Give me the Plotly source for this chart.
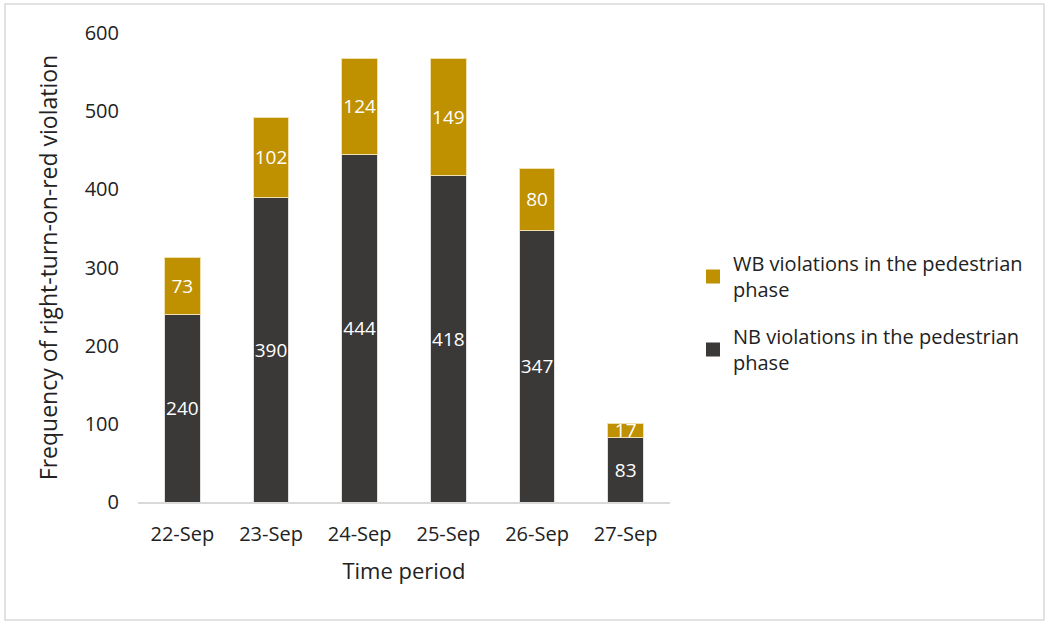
import plotly.graph_objects as go

dates = ["22-Sep", "23-Sep", "24-Sep", "25-Sep", "26-Sep", "27-Sep"]
nb_values = [240, 390, 444, 418, 347, 83]
wb_values = [73, 102, 124, 149, 80, 17]
y_ticks = [0, 100, 200, 300, 400, 500, 600]

NB_NAME = "NB violations in the pedestrian<br>phase"
WB_NAME = "WB violations in the pedestrian<br>phase"
NB_COLOR = "#3B3838"
WB_COLOR = "#BF9000"

FONT = "Open Sans, Noto Sans, sans-serif"
fig = go.Figure()
fig.add_trace(go.Bar(
    x=dates, y=nb_values, name=NB_NAME, showlegend=False,
    marker=dict(color=NB_COLOR, line=dict(color="#E0E0E0", width=1)),
    text=nb_values, textposition="inside", insidetextanchor="middle", textangle=0,
    textfont=dict(color="white", size=19, family=FONT),
))
fig.add_trace(go.Bar(
    x=dates, y=wb_values, name=WB_NAME, showlegend=False,
    marker=dict(color=WB_COLOR, line=dict(color="#F0E0B0", width=1)),
    text=wb_values, textposition="inside", insidetextanchor="middle", textangle=0,
    textfont=dict(color="white", size=19, family=FONT),
))
# legend entries with larger square swatches
for name, color, grp, rank in [(WB_NAME, WB_COLOR, "wb", 1), (NB_NAME, NB_COLOR, "nb", 2)]:
    fig.add_trace(go.Scatter(
        x=[None], y=[None], mode="markers", name=name, legendgroup=grp, legendrank=rank,
        marker=dict(symbol="square", size=14, color=color),
    ))

L, R, T, B = 138, 375, 33, 119
W, H = 1045, 621
pw, ph = W - L - R, H - T - B

def px2paper_x(x):
    return (x - L) / pw

def px2paper_y(y):
    return (H - B - y) / ph

fig.update_layout(
    width=W, height=H,
    barmode="stack", bargap=0.6,
    plot_bgcolor="white", paper_bgcolor="white",
    margin=dict(l=L, r=R, t=T, b=B, autoexpand=False),
    font=dict(family=FONT, color="#222222", size=20),
    uniformtext=dict(minsize=19, mode="show"),
    showlegend=True,
    legend=dict(traceorder="grouped", x=px2paper_x(693), y=px2paper_y(313),
                xanchor="left", yanchor="middle", font=dict(size=20),
                itemsizing="trace", tracegroupgap=18, bgcolor="rgba(0,0,0,0)"),
    xaxis=dict(title=dict(text="Time period", font=dict(size=22), standoff=18),
               showline=True, linecolor="#D9D9D9", linewidth=1.5,
               tickfont=dict(size=20), ticks="", showgrid=False, ticklabelstandoff=13),
    yaxis=dict(title=dict(text="Frequency of right-turn-on-red violation", font=dict(size=23), standoff=20),
               range=[0, 600], tickvals=y_ticks, showgrid=False, zeroline=False,
               showline=False, tickfont=dict(size=20), ticks="", ticklabelstandoff=18),
    shapes=[dict(type="rect", xref="paper", yref="paper",
                 x0=px2paper_x(5), x1=px2paper_x(1044), y0=px2paper_y(620), y1=px2paper_y(4),
                 line=dict(color="#D9D9D9", width=1.5), fillcolor="rgba(0,0,0,0)", layer="below")],
)

fig.write_html("out.html", config={"displayModeBar": False},
               post_script="document.body.style.margin='0';")
